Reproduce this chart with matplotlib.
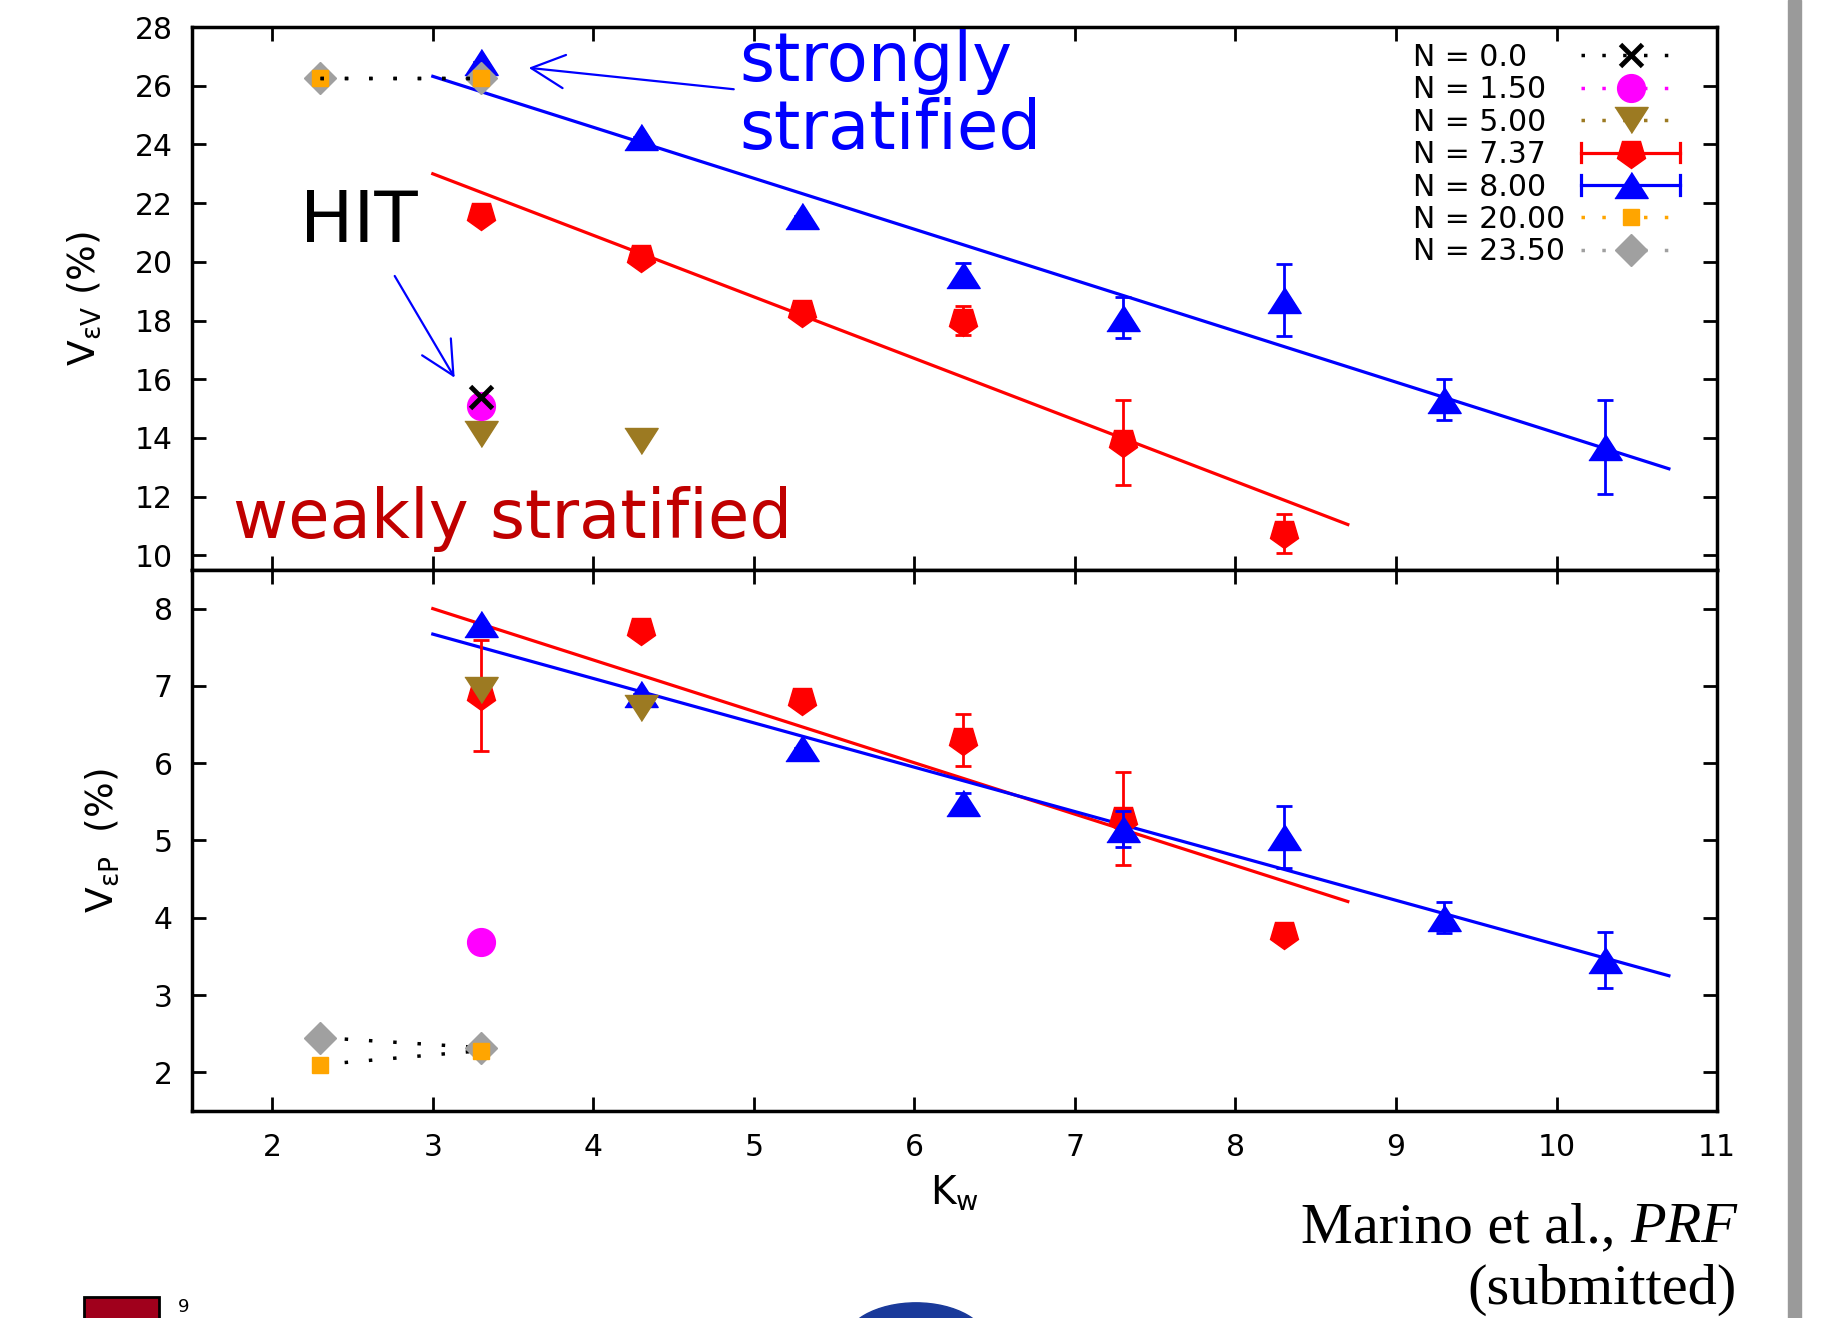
import matplotlib
matplotlib.use("Agg")
import matplotlib.pyplot as plt
from matplotlib.lines import Line2D
from matplotlib.markers import MarkerStyle
from matplotlib.transforms import Affine2D
from matplotlib.legend_handler import HandlerLine2D
from matplotlib.patches import Rectangle, Ellipse

plt.rcParams["font.family"] = ["DejaVu Sans"]
plt.rcParams["mathtext.fontset"] = "dejavusans"

# ---- data ----
kw_n0 = [3.3]
top_n0 = [15.4]

kw_n150 = [3.3]
top_n150 = [15.1]
bot_n150 = [3.68]

kw_n5 = [3.3, 4.3]
top_n5 = [14.15, 13.9]
bot_n5 = [6.95, 6.72]

kw_n737 = [3.3, 4.3, 5.3, 6.3, 7.3, 8.3]
top_n737 = [21.6, 20.15, 18.3, 18.0, 13.85, 10.75]
top_n737_err = [0, 0, 0, 0.5, 1.45, 0.66]
bot_n737 = [6.88, 7.72, 6.82, 6.30, 5.28, 3.79]
bot_n737_err = [0.72, 0, 0, 0.33, 0.6, 0]

kw_n8 = [3.3, 4.3, 5.3, 6.3, 7.3, 8.3, 9.3, 10.3]
top_n8 = [26.8, 24.25, 21.55, 19.55, 18.1, 18.7, 15.3, 13.7]
top_n8_err = [0, 0, 0, 0.4, 0.7, 1.23, 0.7, 1.6]
bot_n8 = [7.80, 6.90, 6.19, 5.49, 5.15, 5.05, 4.0, 3.45]
bot_n8_err = [0, 0, 0, 0.12, 0.23, 0.4, 0.2, 0.36]

kw_n20 = [2.3, 3.3]
top_n20 = [26.25, 26.25]
bot_n20 = [2.1, 2.28]

kw_n235 = [2.3, 3.3]
top_n235 = [26.25, 26.25]
bot_n235 = [2.45, 2.32]

# linear fits
fit_n737_kw = [3.0, 8.7]
fit_top_n737 = [23.0, 11.05]
fit_bot_n737 = [8.0, 4.21]
fit_n8_kw = [3.0, 10.7]
fit_top_n8 = [26.32, 12.95]
fit_bot_n8 = [7.67, 3.25]

legend_labels = ["N = 0.0", "N = 1.50", "N = 5.00", "N = 7.37",
                 "N = 8.00", "N = 20.00", "N = 23.50"]

BLUE = "#0000ff"
RED = "#ff0000"
MAGENTA = "#ff00ff"
OLIVE = "#9c7a22"
ORANGE = "#ffa500"
GRAY = "#a0a0a0"

tri_up = [(-1, -0.78), (1, -0.78), (0, 0.78)]
tri_down = [(-1, 0.78), (1, 0.78), (0, -0.78)]
pent = MarkerStyle("p", transform=Affine2D().rotate_deg(180))
dots = (0, (1, 6))
leg_dots = (0, (1, 5))


class HandlerCapped(HandlerLine2D):
    """gnuplot-like legend sample: horizontal line with end caps"""
    def create_artists(self, legend, orig_handle, xdescent, ydescent,
                       width, height, fontsize, trans):
        arts = super().create_artists(legend, orig_handle, xdescent, ydescent,
                                      width, height, fontsize, trans)
        yc = (height - ydescent) / 2
        for x in (-xdescent, -xdescent + width):
            cap = Line2D([x, x], [yc - 7, yc + 7], color=orig_handle.get_color(),
                         lw=orig_handle.get_linewidth(), transform=trans)
            arts.append(cap)
        return arts


def draw_panel(ax, n0, n150, n5, n737, n737_err, n8, n8_err, n20, n235,
               fit737, fit8, dots_z):
    ax.plot(fit_n737_kw, fit737, color=RED, lw=2.3, zorder=2)
    ax.plot(fit_n8_kw, fit8, color=BLUE, lw=2.3, zorder=2)
    ax.errorbar(kw_n737, n737, yerr=n737_err, fmt="none", ecolor=RED,
                elinewidth=2, capsize=6, capthick=2, zorder=3)
    ax.plot(kw_n737, n737, ls="none", marker=pent, ms=21, color=RED, zorder=3)
    ax.errorbar(kw_n8, n8, yerr=n8_err, fmt="none", ecolor=BLUE,
                elinewidth=2, capsize=6, capthick=2, zorder=4)
    ax.plot(kw_n8, n8, ls="none", marker=tri_up, ms=24, color=BLUE, zorder=4)
    ax.plot(kw_n5, n5, ls="none", marker=tri_down, ms=24, color=OLIVE, zorder=5)
    if n150 is not None:
        ax.plot(kw_n150, n150, ls="none", marker="o", ms=20, color=MAGENTA, zorder=5)
    if n0 is not None:
        ax.plot(kw_n0, n0, ls="none", marker="x", ms=16, mew=3.5, color="black", zorder=6)
    ax.plot(kw_n235, n235, ls="none", marker="D", ms=16, color=GRAY, zorder=6)
    ax.plot(kw_n20, n20, ls="none", marker="s", ms=12, color=ORANGE, zorder=7)
    ax.plot(kw_n235, n235, ls=dots, lw=2.5, color="black", zorder=dots_z)
    ax.plot(kw_n20, n20, ls=dots, lw=2.5, color="black", zorder=dots_z)

    for s in ax.spines.values():
        s.set_linewidth(2.5)
    ax.tick_params(direction="in", length=10, width=2, top=True, right=True,
                   labelsize=21.5)
    ax.tick_params(axis="y", pad=14)
    ax.tick_params(axis="x", pad=16)


fig = plt.figure(figsize=(18.24, 13.18), dpi=100)
ax1 = fig.add_axes([0.10526, 0.5675, 0.8361, 0.4120])
ax2 = fig.add_axes([0.10526, 0.15706, 0.8361, 0.4105])

draw_panel(ax1, top_n0, top_n150, top_n5, top_n737, top_n737_err,
           top_n8, top_n8_err, top_n20, top_n235, fit_top_n737, fit_top_n8, 8)
draw_panel(ax2, None, bot_n150, bot_n5, bot_n737, bot_n737_err,
           bot_n8, bot_n8_err, bot_n20, bot_n235, fit_bot_n737, fit_bot_n8, 5.5)

for ax in (ax1, ax2):
    ax.set_xlim(1.5, 11)
    ax.set_xticks(range(2, 12))
ax1.set_ylim(9.5, 28)
ax1.set_yticks(range(10, 29, 2))
ax1.tick_params(labelbottom=False)
ax2.set_ylim(1.5, 8.5)
ax2.set_yticks(range(2, 9))

ax2.set_xlabel(r"K$_\mathregular{w}$", fontsize=28, va="top")
ax2.xaxis.set_label_coords(0.5, -0.115)
ax1.set_ylabel(r"V$_\mathregular{εV}$ (%)", fontsize=27, va="center")
ax1.yaxis.set_label_coords(-0.071, 0.5)
ax2.set_ylabel(r"V$_\mathregular{εP}$  (%)", fontsize=27, va="center")
ax2.yaxis.set_label_coords(-0.059, 0.5)

# annotations
ax1.text(4.91, 26.16, "strongly", color=BLUE, fontsize=48.5, va="baseline")
ax1.text(4.91, 23.84, "stratified", color=BLUE, fontsize=48.5, va="baseline")
ax1.text(2.17, 20.67, "HIT", color="black", fontsize=51, va="baseline")
ax1.text(1.755, 10.6, "weakly stratified", color="#c00000", fontsize=48.5, va="baseline")
head = "->,head_length=0.6,head_width=0.3"
ax1.annotate("", xy=(3.145, 15.97), xytext=(2.754, 19.6),
             arrowprops=dict(arrowstyle=head, color=BLUE, lw=1.6, mutation_scale=40))
ax1.annotate("", xy=(3.58, 26.62), xytext=(4.892, 25.87),
             arrowprops=dict(arrowstyle=head, color=BLUE, lw=1.6, mutation_scale=40))

# legend (figure spaces keep the labels left-aligned, as gnuplot does)
width = max(len(s) for s in legend_labels)
padded = [s + "\u2007" * (width - len(s)) for s in legend_labels]
handles = [
    Line2D([], [], color="black", ls=leg_dots, lw=2.5, marker="x", ms=16, mew=3.5),
    Line2D([], [], color=MAGENTA, ls=leg_dots, lw=2.5, marker="o", ms=20),
    Line2D([], [], color=OLIVE, ls=leg_dots, lw=2.5, marker=tri_down, ms=24),
    Line2D([], [], color=RED, lw=2.3, marker=pent, ms=21),
    Line2D([], [], color=BLUE, lw=2.3, marker=tri_up, ms=24),
    Line2D([], [], color=ORANGE, ls=leg_dots, lw=2.5, marker="s", ms=12),
    Line2D([], [], color=GRAY, ls=leg_dots, lw=2.5, marker="D", ms=16),
]
ax1.legend(handles, padded, loc="upper right", bbox_to_anchor=(0.9757, 0.971),
           frameon=False, fontsize=21.5, markerfirst=False, numpoints=1,
           handlelength=3.3, handletextpad=0.55, labelspacing=0.115,
           borderpad=0, borderaxespad=0,
           handler_map={handles[3]: HandlerCapped(), handles[4]: HandlerCapped()})

# citation
prf = fig.text(1737 / 1824, 1 - 1242 / 1318, "PRF", fontsize=42, ha="right",
               va="baseline", family="Liberation Serif", style="italic")
fig.text(1737 / 1824, 1 - 1304 / 1318, "(submitted)", fontsize=42, ha="right",
         va="baseline", family="Liberation Serif")
fig.canvas.draw()
bb = prf.get_window_extent()
fig.text(bb.x0 / 1824, 1 - 1242 / 1318, "Marino et al., ", fontsize=42, ha="right",
         va="baseline", family="Liberation Serif")

# page remnants around the plot
fig.patches.append(Rectangle((1788 / 1824, 0), 13 / 1824, 1, transform=fig.transFigure,
                             color="#9a9a9a", zorder=0))
fig.patches.append(Rectangle((84 / 1824, -0.01), 75 / 1824, 0.026, transform=fig.transFigure,
                             facecolor="#a0001c", edgecolor="black", lw=2))
fig.text(178 / 1824, 2 / 1318, "9", fontsize=13, va="bottom")
fig.patches.append(Ellipse((916 / 1824, -0.02), 145 / 1824, 0.063, transform=fig.transFigure,
                           color="#1a3a9a"))

fig.savefig("out.png", dpi=100)
